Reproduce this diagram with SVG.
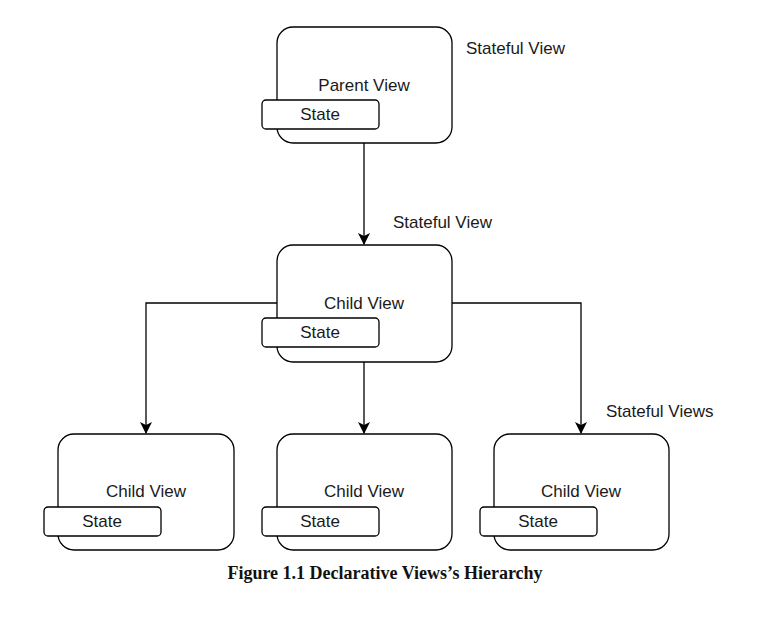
<svg xmlns="http://www.w3.org/2000/svg" width="771" height="631" viewBox="0 0 771 631">
<defs>
<style>
.view{fill:#fff;stroke:#000;stroke-width:1.3}
.state{fill:#fff;stroke:#000;stroke-width:1.3}
.lbl{font-family:"Liberation Sans",Arial,sans-serif;font-size:17px;fill:#1a1a1a;text-anchor:middle}
.note{font-family:"Liberation Sans",Arial,sans-serif;font-size:17px;fill:#1a1a1a}
.edge{fill:none;stroke:#000;stroke-width:1.3}
.cap{font-family:"Liberation Serif","Times New Roman",serif;font-size:18px;font-weight:bold;fill:#111;text-anchor:middle}
</style>
<marker id="arr" viewBox="0 0 12 12" refX="11" refY="6" markerWidth="12" markerHeight="12" markerUnits="userSpaceOnUse" orient="auto">
<path d="M0,0 L12,6 L0,12 L3,6 Z" fill="#000"/>
</marker>
</defs>
<rect width="771" height="631" fill="#fff"/>
<g id="connectors">
<path class="edge" d="M364,143 V244" marker-end="url(#arr)"/>
<path class="edge" d="M277,303 H146 V433" marker-end="url(#arr)"/>
<path class="edge" d="M364,362 V433" marker-end="url(#arr)"/>
<path class="edge" d="M452,303 H581 V433" marker-end="url(#arr)"/>
</g>
<g id="parent">
<rect class="view" x="277" y="27" width="175" height="116" rx="16"/>
<text class="lbl" x="364" y="91">Parent View</text>
<rect class="state" x="262" y="100" width="117" height="29" rx="4"/>
<text class="lbl" x="320" y="120">State</text>
</g>
<g id="child-middle">
<rect class="view" x="277" y="245" width="175" height="117" rx="16"/>
<text class="lbl" x="364" y="309">Child View</text>
<rect class="state" x="262" y="318" width="117" height="29" rx="4"/>
<text class="lbl" x="320" y="338">State</text>
</g>
<g id="child-left">
<rect class="view" x="58" y="434" width="176" height="116" rx="16"/>
<text class="lbl" x="146" y="497">Child View</text>
<rect class="state" x="44" y="507" width="117" height="29" rx="4"/>
<text class="lbl" x="102" y="527">State</text>
</g>
<g id="child-bottom">
<rect class="view" x="277" y="434" width="175" height="116" rx="16"/>
<text class="lbl" x="364" y="497">Child View</text>
<rect class="state" x="262" y="507" width="117" height="29" rx="4"/>
<text class="lbl" x="320" y="527">State</text>
</g>
<g id="child-right">
<rect class="view" x="494" y="434" width="175" height="116" rx="16"/>
<text class="lbl" x="581" y="497">Child View</text>
<rect class="state" x="480" y="507" width="117" height="29" rx="4"/>
<text class="lbl" x="538" y="527">State</text>
</g>
<g id="notes">
<text class="note" x="466" y="54">Stateful View</text>
<text class="note" x="393" y="228">Stateful View</text>
<text class="note" x="606" y="417">Stateful Views</text>
</g>
<text class="cap" x="385" y="579">Figure 1.1 Declarative Views’s Hierarchy</text>
</svg>
